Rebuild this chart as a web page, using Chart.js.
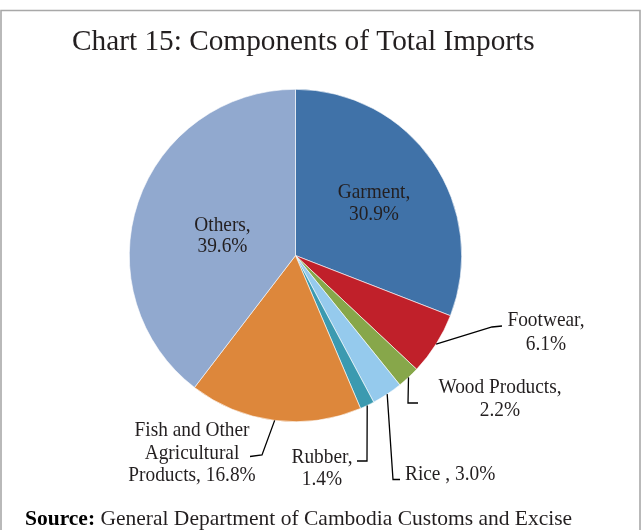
<!DOCTYPE html>
<html>
<head>
<meta charset="utf-8">
<script src="https://cdn.jsdelivr.net/npm/chart.js@4/dist/chart.umd.min.js"></script>
<style>
  html, body { margin: 0; padding: 0; background: #ffffff; }
  #wrap { width: 643px; height: 530px; position: relative; }
</style>
</head>
<body>
<div id="wrap"><canvas id="c"></canvas></div>
<script>
// ---- Data ----
const categories = ['Garment', 'Footwear', 'Wood Products', 'Rice', 'Rubber', 'Fish and Other Agricultural Products', 'Others'];
const shares = [30.9, 6.1, 2.2, 3.0, 1.4, 16.8, 39.6];
// label text templates ({v} = value)
const labelTexts = [
  ['Garment,', '{v}%'],
  ['Footwear,', '{v}%'],
  ['Wood Products,', '{v}%'],
  ['Rice , {v}%'],
  ['Rubber,', '{v}%'],
  ['Fish and Other', 'Agricultural', 'Products, {v}%'],
  ['Others,', '{v}%']
];
const titleText = 'Chart 15: Components of Total Imports';
const sourceBold = 'Source:';
const sourceText = ' General Department of Cambodia Customs and Excise';

// ---- Styles / layout (kept apart from data) ----
const colors = ['#4072a8', '#c0202a', '#87a74a', '#95caed', '#3b9ab0', '#dd873b', '#91a9cf'];
const FONT = '"Liberation Serif", "Times New Roman", serif';
const TEXT_COLOR = '#231f20';
const LABEL_SIZE = 21.5;
const LABEL_XSCALE = 0.9;
// offsets relative to pie center: text anchor x, first-line baseline y, line height, alignment, leader elbow/end
const labelLayout = [
  { dx: 78.5, dy: -57.2, lh: 21.8, align: 'center' },
  { dx: 250.5, dy: 70.2, lh: 24.3, align: 'center', leader: [[196.5, 71.5], [206.5, 70.5]] },
  { dx: 204.5, dy: 137.8, lh: 22.7, align: 'center', leader: [[112.5, 147.5], [122.5, 147.5]] },
  { dx: 109.5, dy: 224.5, lh: 22, align: 'left', leader: [[97.5, 224], [104.5, 224]] },
  { dx: 26.5, dy: 207.8, lh: 21.7, align: 'center', leader: [[71.5, 205.5], [61.5, 205.5]] },
  { dx: -103.5, dy: 180.5, lh: 22.5, align: 'center', leader: [[-33.5, 199.5], [-45.5, 201]] },
  { dx: -73, dy: -24.8, lh: 21.7, align: 'center' }
];

const decorPlugin = {
  id: 'decor',
  beforeDraw(chart) {
    const ctx = chart.ctx;
    ctx.save();
    ctx.fillStyle = '#ffffff';
    ctx.fillRect(0, 0, chart.width, chart.height);
    ctx.strokeStyle = '#a8a8a8';
    ctx.lineWidth = 1.6;
    ctx.beginPath();
    ctx.moveTo(1, 540);
    ctx.lineTo(1, 10.5);
    ctx.lineTo(640, 10.5);
    ctx.lineTo(640, 540);
    ctx.stroke();
    ctx.restore();
  },
  afterDraw(chart) {
    const ctx = chart.ctx;
    const meta = chart.getDatasetMeta(0);
    ctx.save();
    // Title
    ctx.fillStyle = TEXT_COLOR;
    ctx.font = '29.3px ' + FONT;
    ctx.textAlign = 'left';
    ctx.textBaseline = 'alphabetic';
    ctx.fillText(titleText, 72, 49.5);

    // Labels and leader lines
    meta.data.forEach((arc, i) => {
      const p = arc.getProps(['x', 'y', 'startAngle', 'endAngle', 'outerRadius'], true);
      const lay = labelLayout[i];
      const mid = (p.startAngle + p.endAngle) / 2;
      if (lay.leader) {
        const sx = p.x + Math.cos(mid) * p.outerRadius;
        const sy = p.y + Math.sin(mid) * p.outerRadius;
        ctx.strokeStyle = '#000000';
        ctx.lineWidth = 1.3;
        ctx.beginPath();
        ctx.moveTo(sx, sy);
        lay.leader.forEach(pt => ctx.lineTo(p.x + pt[0], p.y + pt[1]));
        ctx.stroke();
      }
      ctx.fillStyle = TEXT_COLOR;
      ctx.font = LABEL_SIZE + 'px ' + FONT;
      ctx.textAlign = lay.align;
      ctx.textBaseline = 'alphabetic';
      const v = shares[i].toFixed(1);
      labelTexts[i].forEach((line, k) => {
        const tx = p.x + lay.dx;
        const ty = p.y + lay.dy + k * lay.lh;
        ctx.save();
        ctx.translate(tx, ty);
        ctx.scale(LABEL_XSCALE, 1);
        ctx.fillText(line.replace('{v}', v), 0, 0);
        ctx.restore();
      });
    });

    // Source
    ctx.textAlign = 'left';
    ctx.textBaseline = 'alphabetic';
    ctx.fillStyle = '#000000';
    ctx.font = 'bold 21.5px ' + FONT;
    ctx.fillText(sourceBold, 25, 525);
    const w = ctx.measureText(sourceBold).width;
    ctx.font = '21.5px ' + FONT;
    ctx.fillStyle = TEXT_COLOR;
    ctx.fillText(sourceText, 25 + w, 525);
    ctx.restore();
  }
};

new Chart(document.getElementById('c'), {
  type: 'pie',
  data: {
    labels: categories,
    datasets: [{
      data: shares,
      backgroundColor: colors,
      borderColor: '#ffffff',
      borderWidth: 0.6
    }]
  },
  options: {
    responsive: true,
    maintainAspectRatio: false,
    animation: false,
    layout: { padding: { left: 129, right: 181, top: 89, bottom: 108 } },
    plugins: {
      legend: { display: false },
      tooltip: { enabled: false },
      title: { display: false }
    }
  },
  plugins: [decorPlugin]
});
</script>
</body>
</html>
